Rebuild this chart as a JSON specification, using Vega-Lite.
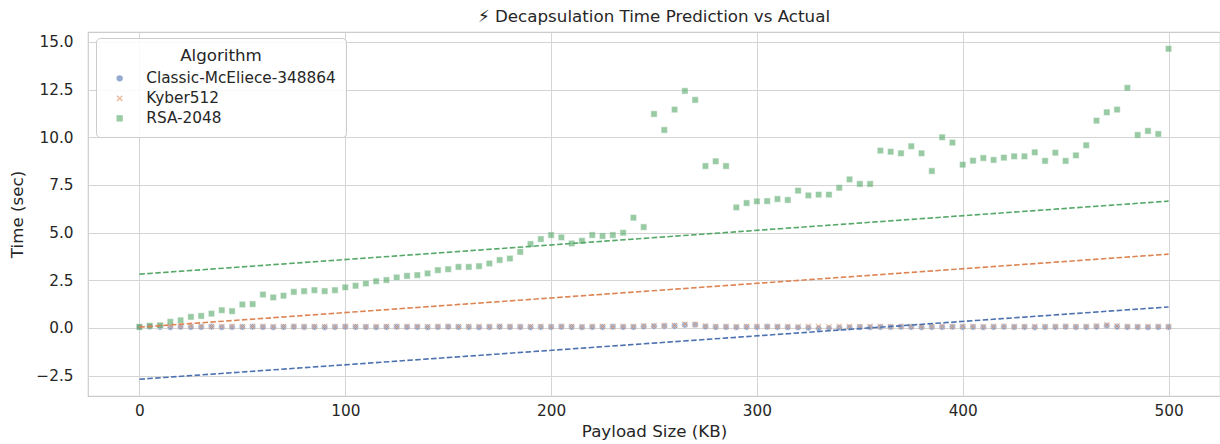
{
  "$schema": "https://vega.github.io/schema/vega-lite/v6.json",
  "width": 1132,
  "height": 364,
  "autosize": {"type": "none"},
  "padding": {"left": 88, "top": 32, "right": 0, "bottom": 48},
  "background": "white",
  "config": {
    "font": "DejaVu Sans",
    "view": {"stroke": "#cccccc", "strokeWidth": 1.2},
    "axis": {
      "labelFont": "DejaVu Sans", "titleFont": "DejaVu Sans",
      "labelFontSize": 15.3, "titleFontSize": 16.7, "titleFontWeight": "normal",
      "labelColor": "#262626", "titleColor": "#262626",
      "domain": false, "ticks": false, "tickSize": 0,
      "gridColor": "#d4d4d4", "gridWidth": 1
    },
    "legend": {"labelFont": "DejaVu Sans", "titleFont": "DejaVu Sans"}
  },
  "title": {"text": "⚡ Decapsulation Time Prediction vs Actual", "fontSize": 16.7, "fontWeight": "normal", "color": "#262626", "font": "DejaVu Sans", "anchor": "middle", "offset": 6},
  "datasets": {
    "pts": [
      {"alg": "Classic-McEliece-348864", "kb": 0, "t": 0.05}, {"alg": "Classic-McEliece-348864", "kb": 5, "t": 0.06}, {"alg": "Classic-McEliece-348864", "kb": 10, "t": 0.05}, {"alg": "Classic-McEliece-348864", "kb": 15, "t": 0.04}, {"alg": "Classic-McEliece-348864", "kb": 20, "t": 0.06},
      {"alg": "Classic-McEliece-348864", "kb": 25, "t": 0.05}, {"alg": "Classic-McEliece-348864", "kb": 30, "t": 0.05}, {"alg": "Classic-McEliece-348864", "kb": 35, "t": 0.06}, {"alg": "Classic-McEliece-348864", "kb": 40, "t": 0.04}, {"alg": "Classic-McEliece-348864", "kb": 45, "t": 0.05},
      {"alg": "Classic-McEliece-348864", "kb": 50, "t": 0.05}, {"alg": "Classic-McEliece-348864", "kb": 55, "t": 0.06}, {"alg": "Classic-McEliece-348864", "kb": 60, "t": 0.05}, {"alg": "Classic-McEliece-348864", "kb": 65, "t": 0.04}, {"alg": "Classic-McEliece-348864", "kb": 70, "t": 0.05},
      {"alg": "Classic-McEliece-348864", "kb": 75, "t": 0.06}, {"alg": "Classic-McEliece-348864", "kb": 80, "t": 0.05}, {"alg": "Classic-McEliece-348864", "kb": 85, "t": 0.05}, {"alg": "Classic-McEliece-348864", "kb": 90, "t": 0.04}, {"alg": "Classic-McEliece-348864", "kb": 95, "t": 0.05},
      {"alg": "Classic-McEliece-348864", "kb": 100, "t": 0.06}, {"alg": "Classic-McEliece-348864", "kb": 105, "t": 0.05}, {"alg": "Classic-McEliece-348864", "kb": 110, "t": 0.05}, {"alg": "Classic-McEliece-348864", "kb": 115, "t": 0.04}, {"alg": "Classic-McEliece-348864", "kb": 120, "t": 0.05},
      {"alg": "Classic-McEliece-348864", "kb": 125, "t": 0.06}, {"alg": "Classic-McEliece-348864", "kb": 130, "t": 0.05}, {"alg": "Classic-McEliece-348864", "kb": 135, "t": 0.05}, {"alg": "Classic-McEliece-348864", "kb": 140, "t": 0.04}, {"alg": "Classic-McEliece-348864", "kb": 145, "t": 0.05},
      {"alg": "Classic-McEliece-348864", "kb": 150, "t": 0.06}, {"alg": "Classic-McEliece-348864", "kb": 155, "t": 0.05}, {"alg": "Classic-McEliece-348864", "kb": 160, "t": 0.05}, {"alg": "Classic-McEliece-348864", "kb": 165, "t": 0.04}, {"alg": "Classic-McEliece-348864", "kb": 170, "t": 0.05},
      {"alg": "Classic-McEliece-348864", "kb": 175, "t": 0.06}, {"alg": "Classic-McEliece-348864", "kb": 180, "t": 0.05}, {"alg": "Classic-McEliece-348864", "kb": 185, "t": 0.05}, {"alg": "Classic-McEliece-348864", "kb": 190, "t": 0.04}, {"alg": "Classic-McEliece-348864", "kb": 195, "t": 0.05},
      {"alg": "Classic-McEliece-348864", "kb": 200, "t": 0.05}, {"alg": "Classic-McEliece-348864", "kb": 205, "t": 0.06}, {"alg": "Classic-McEliece-348864", "kb": 210, "t": 0.05}, {"alg": "Classic-McEliece-348864", "kb": 215, "t": 0.04}, {"alg": "Classic-McEliece-348864", "kb": 220, "t": 0.05},
      {"alg": "Classic-McEliece-348864", "kb": 225, "t": 0.05}, {"alg": "Classic-McEliece-348864", "kb": 230, "t": 0.06}, {"alg": "Classic-McEliece-348864", "kb": 235, "t": 0.05}, {"alg": "Classic-McEliece-348864", "kb": 240, "t": 0.05}, {"alg": "Classic-McEliece-348864", "kb": 245, "t": 0.08},
      {"alg": "Classic-McEliece-348864", "kb": 250, "t": 0.09}, {"alg": "Classic-McEliece-348864", "kb": 255, "t": 0.1}, {"alg": "Classic-McEliece-348864", "kb": 260, "t": 0.1}, {"alg": "Classic-McEliece-348864", "kb": 265, "t": 0.16}, {"alg": "Classic-McEliece-348864", "kb": 270, "t": 0.17},
      {"alg": "Classic-McEliece-348864", "kb": 275, "t": 0.07}, {"alg": "Classic-McEliece-348864", "kb": 280, "t": 0.05}, {"alg": "Classic-McEliece-348864", "kb": 285, "t": 0.05}, {"alg": "Classic-McEliece-348864", "kb": 290, "t": 0.04}, {"alg": "Classic-McEliece-348864", "kb": 295, "t": 0.05},
      {"alg": "Classic-McEliece-348864", "kb": 300, "t": 0.05}, {"alg": "Classic-McEliece-348864", "kb": 305, "t": 0.06}, {"alg": "Classic-McEliece-348864", "kb": 310, "t": 0.05}, {"alg": "Classic-McEliece-348864", "kb": 315, "t": 0.04}, {"alg": "Classic-McEliece-348864", "kb": 320, "t": 0.03},
      {"alg": "Classic-McEliece-348864", "kb": 325, "t": 0.01}, {"alg": "Classic-McEliece-348864", "kb": 330, "t": -0.02}, {"alg": "Classic-McEliece-348864", "kb": 335, "t": -0.01}, {"alg": "Classic-McEliece-348864", "kb": 340, "t": 0.02}, {"alg": "Classic-McEliece-348864", "kb": 345, "t": 0.03},
      {"alg": "Classic-McEliece-348864", "kb": 350, "t": 0.05}, {"alg": "Classic-McEliece-348864", "kb": 355, "t": 0.04}, {"alg": "Classic-McEliece-348864", "kb": 360, "t": 0.05}, {"alg": "Classic-McEliece-348864", "kb": 365, "t": 0.05}, {"alg": "Classic-McEliece-348864", "kb": 370, "t": 0.06},
      {"alg": "Classic-McEliece-348864", "kb": 375, "t": 0.05}, {"alg": "Classic-McEliece-348864", "kb": 380, "t": 0.04}, {"alg": "Classic-McEliece-348864", "kb": 385, "t": 0.05}, {"alg": "Classic-McEliece-348864", "kb": 390, "t": 0.05}, {"alg": "Classic-McEliece-348864", "kb": 395, "t": 0.06},
      {"alg": "Classic-McEliece-348864", "kb": 400, "t": 0.05}, {"alg": "Classic-McEliece-348864", "kb": 405, "t": 0.05}, {"alg": "Classic-McEliece-348864", "kb": 410, "t": 0.04}, {"alg": "Classic-McEliece-348864", "kb": 415, "t": 0.05}, {"alg": "Classic-McEliece-348864", "kb": 420, "t": 0.06},
      {"alg": "Classic-McEliece-348864", "kb": 425, "t": 0.05}, {"alg": "Classic-McEliece-348864", "kb": 430, "t": 0.05}, {"alg": "Classic-McEliece-348864", "kb": 435, "t": 0.04}, {"alg": "Classic-McEliece-348864", "kb": 440, "t": 0.05}, {"alg": "Classic-McEliece-348864", "kb": 445, "t": 0.05},
      {"alg": "Classic-McEliece-348864", "kb": 450, "t": 0.06}, {"alg": "Classic-McEliece-348864", "kb": 455, "t": 0.05}, {"alg": "Classic-McEliece-348864", "kb": 460, "t": 0.05}, {"alg": "Classic-McEliece-348864", "kb": 465, "t": 0.06}, {"alg": "Classic-McEliece-348864", "kb": 470, "t": 0.12},
      {"alg": "Classic-McEliece-348864", "kb": 475, "t": 0.06}, {"alg": "Classic-McEliece-348864", "kb": 480, "t": 0.05}, {"alg": "Classic-McEliece-348864", "kb": 485, "t": 0.05}, {"alg": "Classic-McEliece-348864", "kb": 490, "t": 0.04}, {"alg": "Classic-McEliece-348864", "kb": 495, "t": 0.05},
      {"alg": "Classic-McEliece-348864", "kb": 500, "t": 0.05},
      {"alg": "Kyber512", "kb": 0, "t": 0.06}, {"alg": "Kyber512", "kb": 5, "t": 0.1}, {"alg": "Kyber512", "kb": 10, "t": 0.12}, {"alg": "Kyber512", "kb": 15, "t": 0.11}, {"alg": "Kyber512", "kb": 20, "t": 0.1},
      {"alg": "Kyber512", "kb": 25, "t": 0.09}, {"alg": "Kyber512", "kb": 30, "t": 0.08}, {"alg": "Kyber512", "kb": 35, "t": 0.07}, {"alg": "Kyber512", "kb": 40, "t": 0.08}, {"alg": "Kyber512", "kb": 45, "t": 0.08},
      {"alg": "Kyber512", "kb": 50, "t": 0.07}, {"alg": "Kyber512", "kb": 55, "t": 0.08}, {"alg": "Kyber512", "kb": 60, "t": 0.08}, {"alg": "Kyber512", "kb": 65, "t": 0.07}, {"alg": "Kyber512", "kb": 70, "t": 0.08},
      {"alg": "Kyber512", "kb": 75, "t": 0.08}, {"alg": "Kyber512", "kb": 80, "t": 0.07}, {"alg": "Kyber512", "kb": 85, "t": 0.08}, {"alg": "Kyber512", "kb": 90, "t": 0.08}, {"alg": "Kyber512", "kb": 95, "t": 0.07},
      {"alg": "Kyber512", "kb": 100, "t": 0.08}, {"alg": "Kyber512", "kb": 105, "t": 0.08}, {"alg": "Kyber512", "kb": 110, "t": 0.07}, {"alg": "Kyber512", "kb": 115, "t": 0.08}, {"alg": "Kyber512", "kb": 120, "t": 0.08},
      {"alg": "Kyber512", "kb": 125, "t": 0.07}, {"alg": "Kyber512", "kb": 130, "t": 0.08}, {"alg": "Kyber512", "kb": 135, "t": 0.08}, {"alg": "Kyber512", "kb": 140, "t": 0.07}, {"alg": "Kyber512", "kb": 145, "t": 0.08},
      {"alg": "Kyber512", "kb": 150, "t": 0.08}, {"alg": "Kyber512", "kb": 155, "t": 0.07}, {"alg": "Kyber512", "kb": 160, "t": 0.08}, {"alg": "Kyber512", "kb": 165, "t": 0.08}, {"alg": "Kyber512", "kb": 170, "t": 0.07},
      {"alg": "Kyber512", "kb": 175, "t": 0.08}, {"alg": "Kyber512", "kb": 180, "t": 0.08}, {"alg": "Kyber512", "kb": 185, "t": 0.07}, {"alg": "Kyber512", "kb": 190, "t": 0.08}, {"alg": "Kyber512", "kb": 195, "t": 0.08},
      {"alg": "Kyber512", "kb": 200, "t": 0.07}, {"alg": "Kyber512", "kb": 205, "t": 0.08}, {"alg": "Kyber512", "kb": 210, "t": 0.08}, {"alg": "Kyber512", "kb": 215, "t": 0.07}, {"alg": "Kyber512", "kb": 220, "t": 0.08},
      {"alg": "Kyber512", "kb": 225, "t": 0.08}, {"alg": "Kyber512", "kb": 230, "t": 0.07}, {"alg": "Kyber512", "kb": 235, "t": 0.08}, {"alg": "Kyber512", "kb": 240, "t": 0.08}, {"alg": "Kyber512", "kb": 245, "t": 0.1},
      {"alg": "Kyber512", "kb": 250, "t": 0.11}, {"alg": "Kyber512", "kb": 255, "t": 0.12}, {"alg": "Kyber512", "kb": 260, "t": 0.13}, {"alg": "Kyber512", "kb": 265, "t": 0.2}, {"alg": "Kyber512", "kb": 270, "t": 0.18},
      {"alg": "Kyber512", "kb": 275, "t": 0.1}, {"alg": "Kyber512", "kb": 280, "t": 0.08}, {"alg": "Kyber512", "kb": 285, "t": 0.08}, {"alg": "Kyber512", "kb": 290, "t": 0.07}, {"alg": "Kyber512", "kb": 295, "t": 0.08},
      {"alg": "Kyber512", "kb": 300, "t": 0.08}, {"alg": "Kyber512", "kb": 305, "t": 0.07}, {"alg": "Kyber512", "kb": 310, "t": 0.08}, {"alg": "Kyber512", "kb": 315, "t": 0.08}, {"alg": "Kyber512", "kb": 320, "t": 0.07},
      {"alg": "Kyber512", "kb": 325, "t": 0.08}, {"alg": "Kyber512", "kb": 330, "t": 0.08}, {"alg": "Kyber512", "kb": 335, "t": 0.07}, {"alg": "Kyber512", "kb": 340, "t": 0.08}, {"alg": "Kyber512", "kb": 345, "t": 0.08},
      {"alg": "Kyber512", "kb": 350, "t": 0.07}, {"alg": "Kyber512", "kb": 355, "t": 0.08}, {"alg": "Kyber512", "kb": 360, "t": 0.08}, {"alg": "Kyber512", "kb": 365, "t": 0.07}, {"alg": "Kyber512", "kb": 370, "t": 0.08},
      {"alg": "Kyber512", "kb": 375, "t": 0.08}, {"alg": "Kyber512", "kb": 380, "t": 0.07}, {"alg": "Kyber512", "kb": 385, "t": 0.08}, {"alg": "Kyber512", "kb": 390, "t": 0.08}, {"alg": "Kyber512", "kb": 395, "t": 0.07},
      {"alg": "Kyber512", "kb": 400, "t": 0.08}, {"alg": "Kyber512", "kb": 405, "t": 0.08}, {"alg": "Kyber512", "kb": 410, "t": 0.07}, {"alg": "Kyber512", "kb": 415, "t": 0.08}, {"alg": "Kyber512", "kb": 420, "t": 0.08},
      {"alg": "Kyber512", "kb": 425, "t": 0.07}, {"alg": "Kyber512", "kb": 430, "t": 0.08}, {"alg": "Kyber512", "kb": 435, "t": 0.08}, {"alg": "Kyber512", "kb": 440, "t": 0.07}, {"alg": "Kyber512", "kb": 445, "t": 0.08},
      {"alg": "Kyber512", "kb": 450, "t": 0.08}, {"alg": "Kyber512", "kb": 455, "t": 0.07}, {"alg": "Kyber512", "kb": 460, "t": 0.08}, {"alg": "Kyber512", "kb": 465, "t": 0.1}, {"alg": "Kyber512", "kb": 470, "t": 0.16},
      {"alg": "Kyber512", "kb": 475, "t": 0.1}, {"alg": "Kyber512", "kb": 480, "t": 0.08}, {"alg": "Kyber512", "kb": 485, "t": 0.07}, {"alg": "Kyber512", "kb": 490, "t": 0.08}, {"alg": "Kyber512", "kb": 495, "t": 0.08},
      {"alg": "Kyber512", "kb": 500, "t": 0.07},
      {"alg": "RSA-2048", "kb": 0, "t": 0.05}, {"alg": "RSA-2048", "kb": 5, "t": 0.11}, {"alg": "RSA-2048", "kb": 10, "t": 0.14}, {"alg": "RSA-2048", "kb": 15, "t": 0.32}, {"alg": "RSA-2048", "kb": 20, "t": 0.4},
      {"alg": "RSA-2048", "kb": 25, "t": 0.58}, {"alg": "RSA-2048", "kb": 30, "t": 0.63}, {"alg": "RSA-2048", "kb": 35, "t": 0.75}, {"alg": "RSA-2048", "kb": 40, "t": 0.93}, {"alg": "RSA-2048", "kb": 45, "t": 0.88},
      {"alg": "RSA-2048", "kb": 50, "t": 1.23}, {"alg": "RSA-2048", "kb": 55, "t": 1.25}, {"alg": "RSA-2048", "kb": 60, "t": 1.75}, {"alg": "RSA-2048", "kb": 65, "t": 1.6}, {"alg": "RSA-2048", "kb": 70, "t": 1.69},
      {"alg": "RSA-2048", "kb": 75, "t": 1.89}, {"alg": "RSA-2048", "kb": 80, "t": 1.93}, {"alg": "RSA-2048", "kb": 85, "t": 1.98}, {"alg": "RSA-2048", "kb": 90, "t": 1.93}, {"alg": "RSA-2048", "kb": 95, "t": 1.98},
      {"alg": "RSA-2048", "kb": 100, "t": 2.13}, {"alg": "RSA-2048", "kb": 105, "t": 2.21}, {"alg": "RSA-2048", "kb": 110, "t": 2.33}, {"alg": "RSA-2048", "kb": 115, "t": 2.45}, {"alg": "RSA-2048", "kb": 120, "t": 2.51},
      {"alg": "RSA-2048", "kb": 125, "t": 2.65}, {"alg": "RSA-2048", "kb": 130, "t": 2.73}, {"alg": "RSA-2048", "kb": 135, "t": 2.77}, {"alg": "RSA-2048", "kb": 140, "t": 2.86}, {"alg": "RSA-2048", "kb": 145, "t": 3.03},
      {"alg": "RSA-2048", "kb": 150, "t": 3.08}, {"alg": "RSA-2048", "kb": 155, "t": 3.2}, {"alg": "RSA-2048", "kb": 160, "t": 3.2}, {"alg": "RSA-2048", "kb": 165, "t": 3.24}, {"alg": "RSA-2048", "kb": 170, "t": 3.38},
      {"alg": "RSA-2048", "kb": 175, "t": 3.56}, {"alg": "RSA-2048", "kb": 180, "t": 3.64}, {"alg": "RSA-2048", "kb": 185, "t": 3.99}, {"alg": "RSA-2048", "kb": 190, "t": 4.4}, {"alg": "RSA-2048", "kb": 195, "t": 4.66},
      {"alg": "RSA-2048", "kb": 200, "t": 4.87}, {"alg": "RSA-2048", "kb": 205, "t": 4.75}, {"alg": "RSA-2048", "kb": 210, "t": 4.43}, {"alg": "RSA-2048", "kb": 215, "t": 4.57}, {"alg": "RSA-2048", "kb": 220, "t": 4.87},
      {"alg": "RSA-2048", "kb": 225, "t": 4.82}, {"alg": "RSA-2048", "kb": 230, "t": 4.87}, {"alg": "RSA-2048", "kb": 235, "t": 4.99}, {"alg": "RSA-2048", "kb": 240, "t": 5.78}, {"alg": "RSA-2048", "kb": 245, "t": 5.29},
      {"alg": "RSA-2048", "kb": 250, "t": 11.22}, {"alg": "RSA-2048", "kb": 255, "t": 10.38}, {"alg": "RSA-2048", "kb": 260, "t": 11.45}, {"alg": "RSA-2048", "kb": 265, "t": 12.43}, {"alg": "RSA-2048", "kb": 270, "t": 11.96},
      {"alg": "RSA-2048", "kb": 275, "t": 8.49}, {"alg": "RSA-2048", "kb": 280, "t": 8.74}, {"alg": "RSA-2048", "kb": 285, "t": 8.49}, {"alg": "RSA-2048", "kb": 290, "t": 6.32}, {"alg": "RSA-2048", "kb": 295, "t": 6.55},
      {"alg": "RSA-2048", "kb": 300, "t": 6.64}, {"alg": "RSA-2048", "kb": 305, "t": 6.65}, {"alg": "RSA-2048", "kb": 310, "t": 6.76}, {"alg": "RSA-2048", "kb": 315, "t": 6.71}, {"alg": "RSA-2048", "kb": 320, "t": 7.2},
      {"alg": "RSA-2048", "kb": 325, "t": 6.95}, {"alg": "RSA-2048", "kb": 330, "t": 6.99}, {"alg": "RSA-2048", "kb": 335, "t": 6.99}, {"alg": "RSA-2048", "kb": 340, "t": 7.35}, {"alg": "RSA-2048", "kb": 345, "t": 7.79},
      {"alg": "RSA-2048", "kb": 350, "t": 7.55}, {"alg": "RSA-2048", "kb": 355, "t": 7.55}, {"alg": "RSA-2048", "kb": 360, "t": 9.3}, {"alg": "RSA-2048", "kb": 365, "t": 9.24}, {"alg": "RSA-2048", "kb": 370, "t": 9.16},
      {"alg": "RSA-2048", "kb": 375, "t": 9.53}, {"alg": "RSA-2048", "kb": 380, "t": 9.16}, {"alg": "RSA-2048", "kb": 385, "t": 8.23}, {"alg": "RSA-2048", "kb": 390, "t": 10.0}, {"alg": "RSA-2048", "kb": 395, "t": 9.72},
      {"alg": "RSA-2048", "kb": 400, "t": 8.56}, {"alg": "RSA-2048", "kb": 405, "t": 8.77}, {"alg": "RSA-2048", "kb": 410, "t": 8.91}, {"alg": "RSA-2048", "kb": 415, "t": 8.81}, {"alg": "RSA-2048", "kb": 420, "t": 8.93},
      {"alg": "RSA-2048", "kb": 425, "t": 9.0}, {"alg": "RSA-2048", "kb": 430, "t": 9.0}, {"alg": "RSA-2048", "kb": 435, "t": 9.21}, {"alg": "RSA-2048", "kb": 440, "t": 8.76}, {"alg": "RSA-2048", "kb": 445, "t": 9.19},
      {"alg": "RSA-2048", "kb": 450, "t": 8.76}, {"alg": "RSA-2048", "kb": 455, "t": 9.05}, {"alg": "RSA-2048", "kb": 460, "t": 9.58}, {"alg": "RSA-2048", "kb": 465, "t": 10.87}, {"alg": "RSA-2048", "kb": 470, "t": 11.31},
      {"alg": "RSA-2048", "kb": 475, "t": 11.45}, {"alg": "RSA-2048", "kb": 480, "t": 12.59}, {"alg": "RSA-2048", "kb": 485, "t": 10.12}, {"alg": "RSA-2048", "kb": 490, "t": 10.33}, {"alg": "RSA-2048", "kb": 495, "t": 10.17},
      {"alg": "RSA-2048", "kb": 500, "t": 14.64}
    ],
    "fit": [
      {"alg": "Classic-McEliece-348864", "kb": 0, "t": -2.69}, {"alg": "Classic-McEliece-348864", "kb": 500, "t": 1.1},
      {"alg": "Kyber512", "kb": 0, "t": 0.04}, {"alg": "Kyber512", "kb": 500, "t": 3.87},
      {"alg": "RSA-2048", "kb": 0, "t": 2.82}, {"alg": "RSA-2048", "kb": 500, "t": 6.65}
    ]
  },
  "layer": [
    {
      "data": {"name": "pts"},
      "mark": {"type": "point", "filled": true, "opacity": 0.6, "size": 40, "stroke": "white", "strokeWidth": 0.5},
      "encoding": {
        "x": {"field": "kb", "type": "quantitative", "scale": {"domain": [-25, 525], "nice": false, "zero": false},
              "axis": {"values": [0, 100, 200, 300, 400, 500], "title": "Payload Size (KB)", "labelPadding": 7, "titlePadding": 5, "grid": true}},
        "y": {"field": "t", "type": "quantitative", "scale": {"domain": [-3.57, 15.52], "nice": false, "zero": false},
              "axis": {"values": [-2.5, 0, 2.5, 5, 7.5, 10, 12.5, 15], "format": ".1f", "title": "Time (sec)", "labelPadding": 15, "titlePadding": 9, "grid": true}},
        "color": {"field": "alg", "type": "nominal",
                  "scale": {"domain": ["Classic-McEliece-348864", "Kyber512", "RSA-2048"], "range": ["#4c72b0", "#dd8452", "#55a868"]},
                  "legend": {"title": "Algorithm", "orient": "none", "legendX": 8, "legendY": 6,
                             "fillColor": "rgba(255,255,255,0.85)", "strokeColor": "#cccccc", "cornerRadius": 4, "padding": 10,
                             "titleFontSize": 16.7, "titleFontWeight": "normal", "titleColor": "#262626", "titleAnchor": "middle", "titlePadding": 6,
                             "labelFontSize": 15.3, "labelColor": "#262626", "labelOffset": 19, "symbolOffset": 6, "labelLimit": 0,
                             "symbolSize": 40, "symbolOpacity": 0.6, "symbolStrokeWidth": 0, "rowPadding": 4}},
        "shape": {"field": "alg", "type": "nominal",
                  "scale": {"domain": ["Classic-McEliece-348864", "Kyber512", "RSA-2048"],
                            "range": ["circle", "M-0.7,-1L0,-0.3L0.7,-1L1,-0.7L0.3,0L1,0.7L0.7,1L0,0.3L-0.7,1L-1,0.7L-0.3,0L-1,-0.7Z", "square"]}}
      }
    },
    {
      "data": {"name": "fit"},
      "mark": {"type": "line", "strokeDash": [5.5, 2.4], "strokeWidth": 1.6},
      "encoding": {
        "x": {"field": "kb", "type": "quantitative"},
        "y": {"field": "t", "type": "quantitative"},
        "detail": {"field": "alg", "type": "nominal"},
        "stroke": {"field": "alg", "type": "nominal",
                   "scale": {"domain": ["Classic-McEliece-348864", "Kyber512", "RSA-2048"], "range": ["#4c72b0", "#dd8452", "#55a868"]},
                   "legend": null}
      }
    }
  ]
}
